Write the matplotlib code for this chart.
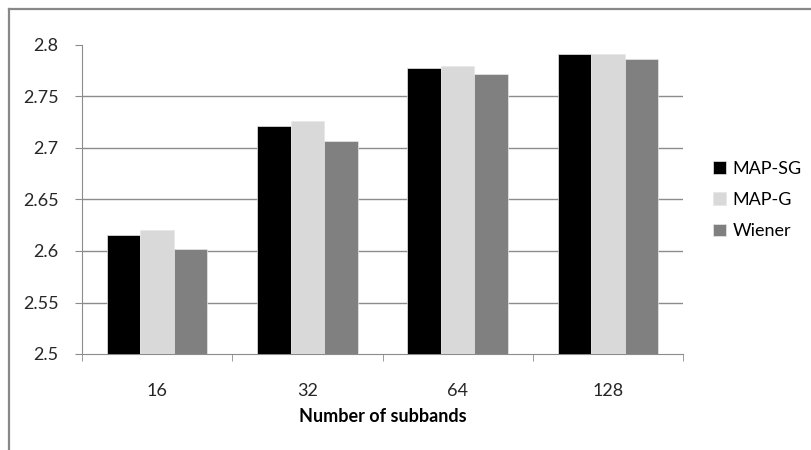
import numpy as np
import matplotlib
matplotlib.use("Agg")
import matplotlib.pyplot as plt
from matplotlib.lines import Line2D

# 数据
categories = ["16", "32", "64", "128"]
map_sg = [2.616, 2.721, 2.778, 2.791]
map_g = [2.620, 2.726, 2.780, 2.791]
wiener = [2.602, 2.707, 2.772, 2.786]
series_names = ["MAP-SG", "MAP-G", "Wiener"]
y_ticks = [2.5, 2.55, 2.6, 2.65, 2.7, 2.75, 2.8]

plt.rcParams['font.family'] = ['Lato', 'DejaVu Sans']

fig = plt.figure(figsize=(8.12, 4.5), dpi=100)
ax = fig.add_axes([82 / 812, 1 - 354 / 450, (683 - 82) / 812, (354 - 45) / 450])

grid_c = "#8c8c8c"
colors = ["#000000", "#d9d9d9", "#808080"]
x = np.arange(len(categories))
w = 0.2233
for i, (vals, c) in enumerate(zip([map_sg, map_g, wiener], colors)):
    ax.bar(x + (i - 1) * w, vals, width=w, color=c, label=series_names[i],
           edgecolor="#e8e8e8", linewidth=0.5, zorder=3)

ax.set_xlim(-0.5, 3.5)
ax.set_ylim(2.5, 2.8)
ax.set_yticks(y_ticks)
ax.set_yticklabels([f"{v:g}" for v in y_ticks])

# 网格线（顶部不画）
for v in y_ticks[1:-1]:
    ax.axhline(v, color=grid_c, lw=1, zorder=1)

for s in ["top", "right"]:
    ax.spines[s].set_visible(False)
ax.spines["left"].set_color(grid_c)
ax.spines["bottom"].set_color(grid_c)

ax.set_xticks(x)
ax.set_xticklabels(categories)
ax.set_xticks(np.arange(-0.5, 4, 1), minor=True)
ax.tick_params(axis="x", which="major", length=0, pad=21, labelsize=13, labelcolor="#262626")
ax.tick_params(axis="x", which="minor", length=5, color=grid_c, direction="out")
ax.tick_params(axis="y", length=5, color=grid_c, pad=12, labelsize=13, labelcolor="#262626")

ax.set_xlabel("Number of subbands", fontsize=13, fontweight="bold", labelpad=6)

ax.legend(loc="center left", bbox_to_anchor=(713 / 812, 1 - 200 / 450),
          bbox_transform=fig.transFigure, frameon=False, fontsize=13,
          handlelength=0.7, handleheight=0.7, handletextpad=0.4,
          labelspacing=0.85, borderpad=0, borderaxespad=0)

# 外框（只见上边和左边）
fig.add_artist(Line2D([9 / 812, 1], [1 - 9 / 450] * 2, color="#888888", lw=1.6))
fig.add_artist(Line2D([9 / 812] * 2, [0, 1 - 9 / 450], color="#888888", lw=1.6))

fig.savefig("out.png", dpi=100)
